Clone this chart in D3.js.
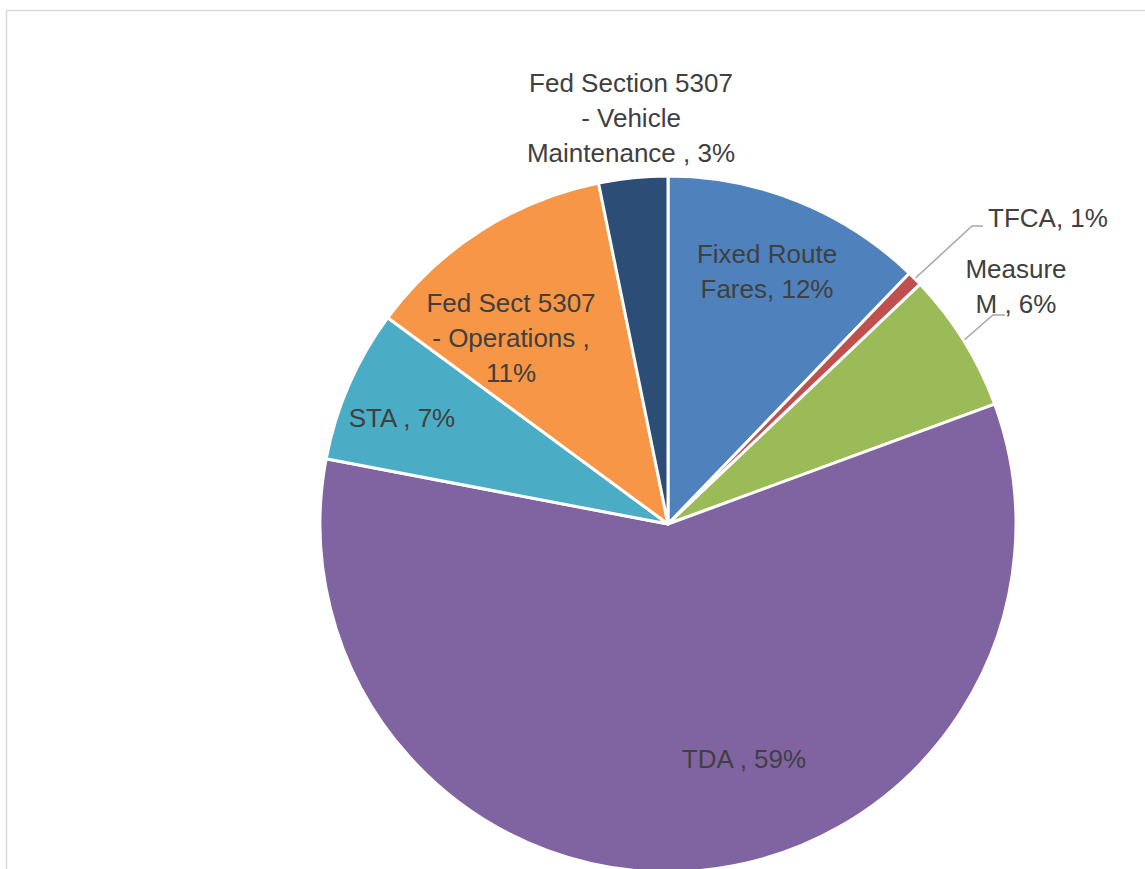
<!DOCTYPE html>
<html>
<head>
<meta charset="utf-8">
<script src="https://cdn.jsdelivr.net/npm/d3@7"></script>
<style>
  html, body { margin: 0; padding: 0; background: #fff; }
  svg { display: block; }
</style>
</head>
<body>
<svg id="chart" width="1145" height="869"></svg>
<script>
// ---- data ----
const categories = ["Fixed Route Fares", "TFCA", "Measure M", "TDA", "STA", "Fed Sect 5307 - Operations", "Fed Section 5307 - Vehicle Maintenance"];
const values = [12.2, 0.7, 6.5, 58.6, 7.1, 11.7, 3.2];
const labelLines = [
  ["Fixed Route", "Fares, 12%"],
  ["TFCA, 1%"],
  ["Measure", "M , 6%"],
  ["TDA , 59%"],
  ["STA , 7%"],
  ["Fed Sect 5307", "- Operations ,", "11%"],
  ["Fed Section 5307", "- Vehicle", "Maintenance , 3%"]
];
const colors = ["#4F81BD", "#C0504D", "#9BBB59", "#8064A2", "#4BACC6", "#F79646", "#2C4D75"];

// ---- layout ----
const cx = 668, cy = 524, R = 348;
// label anchor offsets from pie center (first baseline), anchor type
const labelLayout = [
  {dx: 99, dy: -261, anchor: "middle"},
  {dx: 320, dy: -297, anchor: "start"},
  {dx: 348, dy: -246, anchor: "middle"},
  {dx: 76, dy: 244, anchor: "middle"},
  {dx: -266, dy: -97, anchor: "middle"},
  {dx: -157, dy: -212, anchor: "middle"},
  {dx: -37, dy: -432, anchor: "middle"}
];
// leader line elbows (offset from center) for outside labels
const leaders = {
  1: [[304, -298], [315, -298]],
  2: [[325, -209], [337, -209]]
};
const lineH = 35;

const svg = d3.select("#chart");

// chart border
svg.append("rect")
  .attr("x", 6.5).attr("y", 10.5)
  .attr("width", 1200).attr("height", 1000)
  .attr("fill", "none").attr("stroke", "#d9d9d9").attr("stroke-width", 1.5);

const pie = d3.pie().sort(null).value(d => d);
const arcs = pie(values);
const arc = d3.arc().innerRadius(0).outerRadius(R);

const g = svg.append("g").attr("transform", `translate(${cx},${cy})`);

g.selectAll("path.slice")
  .data(arcs)
  .join("path")
  .attr("class", "slice")
  .attr("d", arc)
  .attr("fill", (d, i) => colors[i])
  .attr("stroke", "#fff")
  .attr("stroke-width", 3)
  .attr("stroke-linejoin", "round");

// leader lines
Object.keys(leaders).forEach(k => {
  const a = arcs[+k];
  const mid = (a.startAngle + a.endAngle) / 2;
  const p0 = [Math.sin(mid) * (R + 1), -Math.cos(mid) * (R + 1)];
  const pts = [p0].concat(leaders[k]);
  g.append("path")
    .attr("d", d3.line()(pts))
    .attr("fill", "none")
    .attr("stroke", "#a6a6a6")
    .attr("stroke-width", 1.5);
});

// labels
labelLines.forEach((lines, i) => {
  const L = labelLayout[i];
  const t = g.append("text")
    .attr("x", L.dx).attr("y", L.dy)
    .attr("text-anchor", L.anchor)
    .attr("font-family", "'Liberation Sans', Arial, sans-serif")
    .attr("font-size", 26)
    .attr("fill", "#404040");
  lines.forEach((ln, j) => {
    t.append("tspan").attr("x", L.dx).attr("dy", j === 0 ? 0 : lineH).text(ln);
  });
});
</script>
</body>
</html>
